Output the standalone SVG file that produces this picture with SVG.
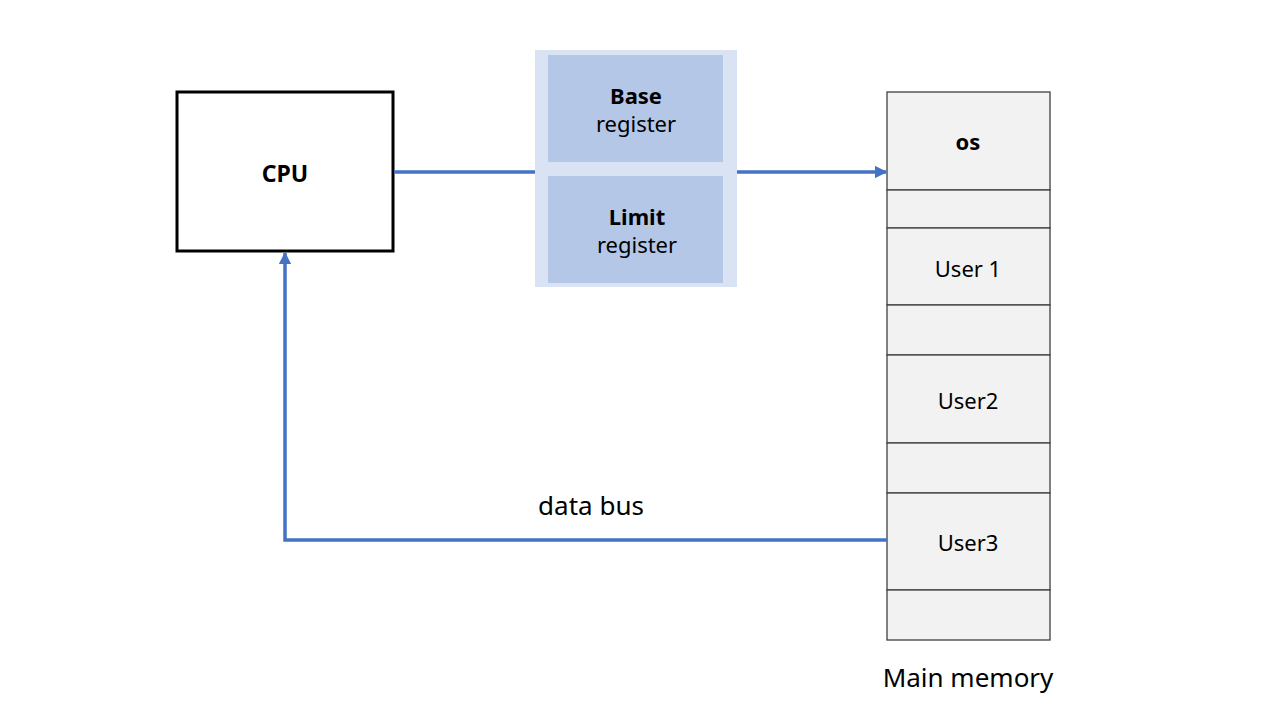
<svg xmlns="http://www.w3.org/2000/svg" width="1280" height="720" viewBox="0 0 1280 720">
<style>
text{font-family:"Noto Sans","Open Sans","DejaVu Sans",sans-serif;fill:#000;text-anchor:middle}
.l{font-size:22px}
.b{font-size:22px;font-weight:bold}
.big{font-size:26px}
.reg{fill:#b4c7e7;stroke:none}
.cell{fill:#f2f2f2;stroke:#404040;stroke-width:1.3}
.conn{fill:none;stroke:#4472c4;stroke-width:3.5}
</style>
<defs>
<marker id="ah" viewBox="0 0 10 10" refX="9" refY="5" markerWidth="3.6" markerHeight="3.6" orient="auto-start-reverse" markerUnits="strokeWidth">
<path d="M0,0L10,5L0,10z" fill="#4472c4"/>
</marker>
</defs>
<rect width="1280" height="720" fill="#fff"/>
<g id="cpu">
<rect x="177" y="92" width="216" height="159" fill="#fff" stroke="#000" stroke-width="3"/>
<text class="b" x="285" y="182" style="font-size:23px">CPU</text>
</g>
<g id="registers">
<rect x="535" y="50" width="202" height="237" fill="#dae3f3"/>
<g id="base">
<rect class="reg" x="548" y="55" width="175" height="107"/>
<text class="b" x="636" y="104">Base</text>
<text class="l" x="636" y="132">register</text>
</g>
<g id="limit">
<rect class="reg" x="548" y="176" width="175" height="107"/>
<text class="b" x="637" y="225">Limit</text>
<text class="l" x="637" y="253">register</text>
</g>
</g>
<g id="memory">
<rect class="cell" x="887" y="92" width="163" height="98"/>
<rect class="cell" x="887" y="190" width="163" height="38"/>
<rect class="cell" x="887" y="228" width="163" height="77"/>
<rect class="cell" x="887" y="305" width="163" height="50"/>
<rect class="cell" x="887" y="355" width="163" height="88"/>
<rect class="cell" x="887" y="443" width="163" height="50"/>
<rect class="cell" x="887" y="493" width="163" height="97"/>
<rect class="cell" x="887" y="590" width="163" height="50"/>
<text class="b" x="968" y="150">os</text>
<text class="l" x="968" y="277">User 1</text>
<text class="l" x="968" y="409">User2</text>
<text class="l" x="968" y="551">User3</text>
<text class="big" x="968" y="687">Main memory</text>
</g>
<g id="connectors">
<line class="conn" x1="394" y1="172" x2="535" y2="172"/>
<line class="conn" x1="737" y1="172" x2="886" y2="172" marker-end="url(#ah)"/>
<polyline class="conn" points="887,540 285,540 285,253" marker-end="url(#ah)"/>
<text class="big" x="591" y="515">data bus</text>
</g>
</svg>
